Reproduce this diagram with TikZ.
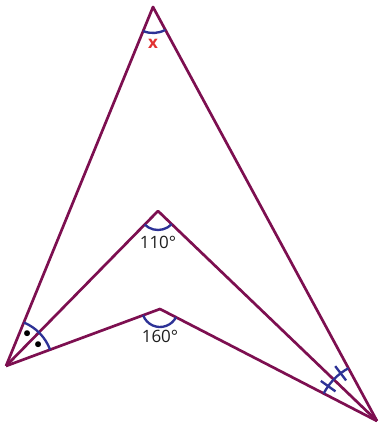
\documentclass[tikz,border=0pt]{standalone}
\usepackage{fontspec}
\setmainfont{Open Sans}
\usetikzlibrary{angles}
\definecolor{linecol}{RGB}{125,15,80}
\definecolor{arccol}{RGB}{45,50,150}
\definecolor{xcol}{RGB}{225,50,50}
\definecolor{txtcol}{RGB}{30,30,30}
\begin{document}
\begin{tikzpicture}[x=0.03cm,y=0.03cm,
		side/.style={linecol,line width=2.3pt,line join=round},
		arcmark/.style={draw=arccol,line width=2pt},
		lbl/.style={text=txtcol,font=\fontsize{14.5}{16}\selectfont}]
			\useasboundingbox (0,0) rectangle (380,428);
			% vertices
			\coordinate (A) at (153,421);
			\coordinate (L) at (6,62);
			\coordinate (R) at (377,7);
			\coordinate (M) at (158,217);
			\coordinate (N) at (160,119);
			% sides
			\draw[side] (L) -- (A) -- (R);
			\draw[side] (L) -- (M) -- (R);
			\draw[side] (L) -- (N) -- (R);
			% angle arcs
			\pic[arcmark,angle radius=0.78cm] {angle=L--A--R};
			\pic[arcmark,angle radius=0.57cm] {angle=L--M--R};
			\pic[arcmark,angle radius=0.54cm] {angle=L--N--R};
			\pic[arcmark,angle radius=1.41cm] {angle=N--L--A};
			\pic[arcmark,angle radius=1.8cm] {angle=A--R--N};
			% equal halves
			\pic[pic text=\scalebox{1.3}{$\bullet$},angle radius=1.15cm,angle eccentricity=1] {angle=M--L--A};
			\pic[pic text=\scalebox{1.3}{$\bullet$},angle radius=1.15cm,angle eccentricity=1] {angle=N--L--M};
			\draw[arcmark] (R) ++(127.3:51) -- ++(127.3:18);
			\draw[arcmark] (R) ++(144.5:51) -- ++(144.5:18);
			% labels
			\node[lbl,text=xcol,font=\fontsize{14.5}{16}\selectfont\bfseries] (xlab) at (153,384) {x};
			\node[lbl] (ang1) at (158,186) {110°};
			\node[lbl] (ang2) at (160,92) {160°};
		\end{tikzpicture}
\end{document}
